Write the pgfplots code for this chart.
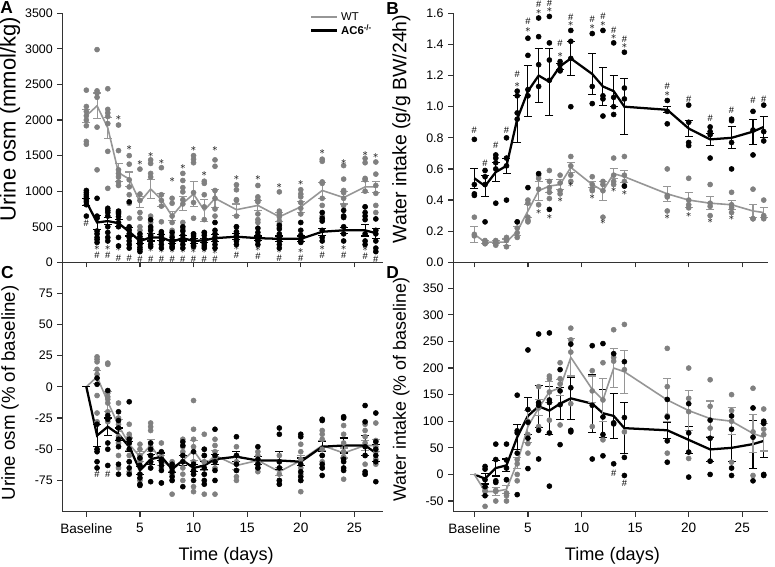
\documentclass[border=0pt]{standalone}
\usepackage{pgfplots}
\usepackage{pgfplotstable}
\pgfplotsset{compat=1.18}
\usepackage{fontspec}
\setmainfont{Liberation Sans}
\definecolor{wtg}{RGB}{150,150,150}
\definecolor{wtd}{RGB}{128,128,128}

% ---------------- Panel A : urine osmolality (mmol/kg) ----------------
\pgfplotstableread{
d wt wte ko koe
0 2060 90 850 50
1 2200 180 560 100
2 1890 150 580 50
3 1260 130 550 50
4 1170 100 430 60
5 850 80 300 40
6 1030 130 350 50
7 880 90 350 40
8 650 60 290 30
9 830 100 340 40
10 960 170 300 40
11 730 150 310 30
12 900 130 340 50
14 740 80 360 40
16 800 70 340 30
18 640 60 330 40
20 780 80 330 40
22 1010 110 430 50
24 910 90 450 40
26 1060 80 450 80
27 1060 80 410 70
}\Amean
\pgfplotstableread{
d v1 v2 v3 v4 v5 v6 v7 v8
0 2420 2190 2120 2060 2000 1920 1700 1660
1 2990 2410 2380 2320 1900 1300 nan nan
2 2440 2150 2100 2050 1950 1560 1040 nan
3 1930 1570 1300 1250 1200 1130 1080 nan
4 1500 1380 1160 1060 950 830 620 nan
5 1310 960 870 700 620 500 450 300
6 1440 1390 1250 1200 650 560 480 400
7 1330 950 870 790 570 410 nan nan
8 900 830 650 560 450 380 nan nan
9 1250 1150 1050 990 880 820 560 470
10 1500 1450 1400 980 840 620 400 nan
11 1140 1110 950 780 600 420 330 nan
12 1440 1350 1010 900 750 650 nan nan
14 1090 1020 880 870 650 500 nan nan
16 1080 920 880 850 680 600 560 nan
18 990 720 680 640 580 540 490 nan
20 1020 960 920 840 760 680 nan nan
22 1450 1420 1130 1110 900 800 650 600
24 1360 1170 1010 980 900 800 650 nan
26 1460 1400 1180 1160 1000 780 nan nan
27 1410 1240 1080 970 800 700 nan nan
}\Awt
\pgfplotstableread{
d v1 v2 v3 v4 v5 v6 v7 v8
0 1010 980 950 920 880 850 810 650
1 900 650 620 440 400 350 320 280
2 760 730 700 650 500 420 350 300
3 720 700 680 640 560 500 350 230
4 850 500 450 400 350 300 250 200
5 400 360 310 280 250 210 180 150
6 600 500 450 380 350 300 250 220
7 430 400 370 340 300 250 200 nan
8 420 350 300 270 250 220 200 nan
9 500 440 380 330 300 250 200 nan
10 400 370 330 300 270 240 220 nan
11 420 380 330 300 260 230 200 nan
12 560 450 400 350 300 250 200 nan
14 500 430 380 350 300 250 nan nan
16 480 420 380 330 300 250 nan nan
18 520 470 400 350 300 250 200 nan
20 560 450 380 330 300 280 nan nan
22 700 620 580 450 350 300 nan nan
24 730 650 630 500 400 300 nan nan
26 780 700 650 600 400 300 250 nan
27 610 450 400 300 200 150 nan nan
}\Ako

% ---------------- Panel B : water intake (g/g BW/24h) ----------------
\pgfplotstableread{
d wt wte ko koe
0 0.18 0.05 0.54 0.065
1 0.13 0.01 0.49 0.07
2 0.13 0.01 0.58 0.06
3 0.13 0.02 0.62 0.05
4 0.20 0.03 0.92 0.15
5 0.33 0.04 1.10 0.165
6 0.46 0.06 1.20 0.175
7 0.49 0.04 1.16 0.215
8 0.50 0.03 1.26 0.02
9 0.61 0.03 1.31 0.11
11 0.50 0.02 1.21 0.13
12 0.46 0.06 1.13 0.12
13 0.57 0.03 1.10 0.10
14 0.55 0.04 1.00 0.18
18 0.44 0.05 0.98 0.02
20 0.40 0.05 0.86 0.05
22 0.38 0.04 0.79 0.04
24 0.37 0.03 0.80 0.07
26 0.33 0.04 0.84 0.08
27 0.32 0.03 0.87 0.07
}\Bmean
\pgfplotstableread{
d v1 v2 v3 v4 v5
0 0.29 0.18 0.17 nan nan
1 0.14 0.13 0.12 0.12 nan
2 0.14 0.13 0.12 0.11 nan
3 0.16 0.15 0.14 0.10 nan
4 0.26 0.22 0.19 0.16 nan
5 0.40 0.38 0.29 0.27 0.26
6 0.56 0.54 0.47 0.37 nan
7 0.59 0.52 0.48 0.45 0.41
8 0.56 0.51 0.46 0.44 nan
9 0.68 0.62 0.56 0.52 nan
11 0.55 0.50 0.47 0.46 nan
12 0.52 0.50 0.46 0.29 nan
13 0.67 0.56 0.52 0.50 nan
14 0.68 0.56 0.52 0.49 nan
18 0.60 0.43 0.42 0.33 nan
20 0.54 0.40 0.37 0.35 nan
22 0.50 0.38 0.36 0.30 nan
24 0.45 0.37 0.35 0.32 nan
26 0.47 0.28 0.28 nan nan
27 0.40 0.30 0.29 0.28 nan
}\Bwt
\pgfplotstableread{
d v1 v2 v3 v4 v5
0 0.79 0.50 0.44 0.43 nan
1 0.59 0.55 0.50 0.26 nan
2 0.69 0.67 0.64 0.60 0.38
3 0.80 0.67 0.62 0.40 nan
4 1.10 1.07 0.96 0.92 0.26
5 1.44 1.33 1.11 1.07 0.48
6 1.57 1.45 1.27 1.13 0.57
7 1.58 1.41 1.30 1.17 0.34
8 1.29 1.27 1.24 1.23 nan
9 1.49 1.42 1.31 1.00 nan
11 1.47 1.13 1.02 nan nan
12 1.49 1.07 1.05 0.94 nan
13 1.41 1.06 1.00 0.95 nan
14 1.35 1.12 1.05 0.49 nan
18 1.04 0.97 0.89 nan nan
20 1.01 0.90 0.77 0.75 nan
22 0.87 0.84 0.82 0.67 nan
24 0.92 0.91 0.77 0.60 nan
26 0.97 0.85 0.69 nan nan
27 1.01 0.84 0.78 nan nan
}\Bko

% ---------------- Panel C : urine osm (% of baseline) ----------------
\pgfplotstableread{
d wt wte ko koe
0 0 0 0 0
1 8 5 -39 9
2 -12 8 -32 7
3 -31 5 -38 5
4 -46 5 -48 4
5 -56 4 -67 3
6 -47 5 -58 4
7 -59 4 -56 3
8 -65 3 -66 3
9 -59 4 -59 4
10 -51 8 -65 3
11 -63 4 -63 3
12 -55 4 -58 4
14 -63 3 -56 4
16 -59 3 -59 3
18 -68 3 -59 7
20 -59 4 -60 3
22 -47 4 -48 4
24 -53 4 -47 6
26 -47 4 -47 8
27 -47 5 -53 7
}\Cmean
\pgfplotstableread{
d v1 v2 v3 v4 v5 v6 v7 v8
1 24 22 20 14 10 -7 -21 -28
2 19 18 -5 -8 -10 -13 -20 -28
3 -13 -25 -30 -40 -45 -55 -65 nan
4 -30 -38 -40 -45 -55 -60 -68 nan
5 -46 -50 -55 -58 -60 -70 -75 nan
6 -29 -32 -35 -45 -48 -55 -60 -65
7 -45 -55 -60 -65 -77 nan nan nan
8 -60 -62 -67 -70 -75 -86 nan nan
9 -42 -48 -52 -55 -60 -65 -70 -75
10 -11 -34 -42 -48 -60 -70 -80 -84
11 -38 -50 -55 -60 -70 -86 nan nan
12 -42 -47 -52 -57 -60 -65 -86 nan
14 -48 -55 -60 -67 -72 -75 nan nan
16 -52 -55 -60 -62 -65 -68 nan nan
18 -55 -60 -65 -70 -75 -78 nan nan
20 -46 -52 -58 -65 -70 -75 -84 nan
22 -35 -38 -42 -50 -55 -60 -65 nan
24 -31 -38 -45 -52 -56 -74 nan nan
26 -30 -35 -40 -45 -55 -62 -70 nan
27 -29 -43 -48 -52 -58 -62 nan nan
}\Cwt
\pgfplotstableread{
d v1 v2 v3 v4 v5 v6 v7 v8
1 7 2 -30 -50 -52 -60 -65 nan
2 -3 -23 -26 -45 -50 -63 nan nan
3 -20 -27 -33 -42 -48 -62 -70 nan
4 -12 -42 -45 -50 -60 -65 -70 nan
5 -57 -63 -70 -73 -78 -79 nan nan
6 -45 -50 -55 -60 -65 -76 nan nan
7 -52 -58 -60 -63 -67 -77 nan nan
8 -62 -65 -68 -72 -75 nan nan nan
9 -44 -47 -55 -60 -80 nan nan nan
10 -52 -62 -67 -70 -75 nan nan nan
11 -50 -55 -65 -70 -75 -78 nan nan
12 -34 -55 -60 -67 -75 nan nan nan
14 -40 -55 -62 -67 nan nan nan nan
16 -48 -58 -62 -65 nan nan nan nan
18 -33 -38 -60 -65 -75 -78 nan nan
20 -38 -40 -62 -68 -72 -75 nan nan
22 -26 -27 -55 -62 -65 -71 nan nan
24 -24 -25 -58 -60 -65 -67 nan nan
26 -15 -28 -48 -55 -68 -70 nan nan
27 -21 -44 -50 -55 -60 -76 nan nan
}\Cko

% ---------------- Panel D : water intake (% of baseline) ----------------
\pgfplotstableread{
d wt wte ko koe
0 0 0 0 0
1 -32 7 -8 10
2 -32 7 12 15
3 -28 8 17 12
4 22 10 70 23
5 90 30 110 35
6 125 15 128 40
7 155 20 120 45
8 163 15 133 30
9 220 35 143 40
11 160 25 133 55
12 140 40 115 45
13 200 37 110 43
14 193 40 87 48
18 140 40 83 15
20 120 37 65 25
22 105 33 47 22
24 100 25 50 25
26 77 35 57 45
27 70 26 63 32
}\Dmean
\pgfplotstableread{
d v1 v2 v3 v4 v5
1 -60 -32 -30 -25 nan
2 -50 -32 -30 nan nan
3 -50 -40 -35 -10 nan
4 28 20 0 -12 nan
5 100 75 58 40 nan
6 165 135 125 90 nan
7 185 180 155 102 nan
8 210 180 170 93 nan
9 275 253 230 133 nan
11 195 157 90 nan nan
12 210 140 65 nan nan
13 272 220 213 nan nan
14 282 197 80 nan nan
18 237 165 110 40 nan
20 200 143 118 30 nan
22 178 128 87 25 nan
24 150 120 100 23 nan
26 162 80 -2 nan nan
27 123 97 85 75 nan
}\Dwt
\pgfplotstableread{
d v1 v2 v3 v4 v5
1 15 10 -10 -23 -40
2 57 28 -12 -15 nan
3 57 27 12 -10 nan
4 149 82 78 40 -38
5 234 122 98 68 11
6 264 135 130 83 29
7 266 140 135 78 -22
8 197 157 131 56 nan
9 245 163 83 80 nan
11 242 130 29 nan nan
12 246 108 75 35 nan
13 227 97 95 20 nan
14 212 107 32 -2 nan
18 141 108 63 23 nan
20 133 78 42 -5 nan
22 102 68 25 0 nan
24 110 85 12 -2 nan
26 125 70 -12 nan nan
27 100 96 0 -2 nan
}\Dko

\pgfplotsset{
  panel/.style={
    scale only axis,
    axis x line*=bottom, axis y line*=left,
    x axis line style={-, line width=0.9pt, black!80},
    y axis line style={-, line width=0.9pt, black!80},
    tick style={line width=0.9pt, black!80},
    tick align=outside,
    major tick length=3.8pt,
    xtick={0,5,10,15,20,25},
    tick label style={font=\fontsize{9.3}{10}\selectfont},
    xticklabel style={font=\fontsize{10.2}{11}\selectfont, yshift=-1.5pt},
    /pgf/number format/assume math mode=true,
    /pgf/number format/1000 sep={},
    clip=false,
    ylabel style={anchor=center},
    xlabel style={font=\fontsize{13.6}{14}\selectfont, anchor=center},
  },
  wtdots/.style={only marks, mark=*, mark size=1.9pt, draw=wtd, fill=wtd, forget plot},
  kodots/.style={only marks, mark=*, mark size=1.9pt, draw=black, fill=black, forget plot},
  wtmean/.style={wtg, line width=1.2pt, mark=none, forget plot,
    error bars/y dir=both, error bars/y explicit,
    error bars/error bar style={wtg, line width=0.8pt},
    error bars/error mark options={rotate=90, wtg, mark size=3pt, line width=0.8pt}},
  komean/.style={black, line width=1.7pt, mark=none, forget plot,
    error bars/y dir=both, error bars/y explicit,
    error bars/error bar style={black, line width=0.8pt},
    error bars/error mark options={rotate=90, black, mark size=3pt, line width=0.8pt}},
  star/.style={only marks, mark=text, text mark={\fontsize{8.5}{8}\selectfont$\ast$}, black, forget plot},
  hash/.style={only marks, mark=text, text mark={\fontsize{7}{7}\selectfont\#}, black, forget plot},
}

\begin{document}
\begin{tikzpicture}
\path[use as bounding box] (0,0) rectangle (581.25pt,425.25pt);

% ===== A =====
\begin{axis}[panel, at={(46.9pt,228.5pt)}, anchor=south west,
  width=240.6pt, height=186.75pt,
  xmin=-2.22, xmax=27.7, ymin=0, ymax=3500,
  ytick={0,500,...,3500}, xticklabels={},
  ylabel={Urine osm (mmol/kg)},
  ylabel style={font=\fontsize{16.5}{17}\selectfont, at={(axis description cs:-0.164,0.575)}},
  legend style={draw=none, fill=none, at={(axis description cs:0.77,1.015)}, anchor=north west,
    font=\fontsize{8.5}{9}\selectfont, row sep=-2pt, inner sep=0pt},
  legend cell align=left,
  legend image code/.code={\draw[#1] (0pt,0pt) -- (19.5pt,0pt);},
]
\addlegendimage{wtg, line width=1.5pt}
\addlegendentry{WT}
\addlegendimage{black, line width=2pt}
\addlegendentry{\textbf{AC6\textsuperscript{-/-}}}
\pgfplotsinvokeforeach{1,...,8}{\addplot[wtdots] table[x=d,y=v#1]{\Awt};}
\pgfplotsinvokeforeach{1,...,8}{\addplot[kodots] table[x=d,y=v#1]{\Ako};}
\addplot[komean] table[x=d,y=ko,y error=koe]{\Amean};
\addplot[wtmean] table[x=d,y=wt,y error=wte]{\Amean};
\addplot[star] coordinates {(3,2024) (4,1600) (5,1400) (6,1510) (7,1405) (8,1157) (9,1345) (10,1588) (11,1237) (12,1588) (14,1181) (16,1181) (18,1073) (20,1110) (22,1546) (24,1415) (26,1523) (27,1499)};
\addplot[star] coordinates {(1,200) (2,195) (3,185) (4,190) (5,165) (6,170) (7,165) (8,160) (9,160) (10,165) (11,160) (12,150) (14,195) (16,185) (18,165) (20,165) (22,195) (24,195) (26,190) (27,140)};
\addplot[hash] coordinates {(0,550) (1,100) (2,100) (3,60) (4,60) (5,40) (6,45) (7,45) (8,40) (9,40) (10,45) (11,40) (12,40) (14,100) (16,90) (18,55) (20,55) (22,100) (24,100) (26,90) (27,40)};
\end{axis}

% ===== B =====
\begin{axis}[panel, at={(340pt,228.5pt)}, anchor=south west,
  width=236.25pt, height=186.75pt,
  xmin=-1.96, xmax=27.43, ymin=0, ymax=1.6,
  ytick={0,0.2,...,1.6},
  yticklabel style={/pgf/number format/fixed, /pgf/number format/fixed zerofill, /pgf/number format/precision=1},
  xticklabels={},
  ylabel={Water intake (g/g BW/24h)},
  ylabel style={font=\fontsize{14.6}{15}\selectfont, at={(axis description cs:-0.165,0.535)}},
]
\pgfplotsinvokeforeach{1,...,5}{\addplot[wtdots] table[x=d,y=v#1]{\Bwt};}
\pgfplotsinvokeforeach{1,...,5}{\addplot[kodots] table[x=d,y=v#1]{\Bko};}
\addplot[komean] table[x=d,y=ko,y error=koe]{\Bmean};
\addplot[wtmean] table[x=d,y=wt,y error=wte]{\Bmean};
\addplot[star] coordinates {(6,0.326) (7,0.293) (8,0.40) (9,0.497) (11,0.422) (12,0.261) (13,0.465) (14,0.443) (18,0.293) (20,0.304) (22,0.268) (24,0.283)};
\addplot[star] coordinates {(4,1.14) (5,1.49) (6,1.61) (7,1.62) (8,1.33) (9,1.53) (11,1.51) (12,1.53) (13,1.45) (14,1.39) (18,1.08)};
\addplot[hash] coordinates {(0,0.85) (1,0.636) (2,0.754) (3,0.85) (4,1.21) (5,1.547) (6,1.66) (7,1.664) (8,1.41) (9,1.574) (11,1.564) (12,1.58) (13,1.49) (14,1.43) (18,1.13) (20,1.05) (22,0.925) (24,0.975) (26,1.04) (27,1.05)};
\end{axis}

% ===== C =====
\begin{axis}[panel, at={(46.9pt,41.5pt)}, anchor=south west,
  width=240.6pt, height=187.3pt,
  xmin=-2.22, xmax=27.7, ymin=-100, ymax=100,
  ytick={-75,-50,...,75},
  xticklabels={Baseline,5,10,15,20,25},
  ylabel={Urine osm (\% of baseline)},
  ylabel style={font=\fontsize{14}{15}\selectfont, at={(axis description cs:-0.164,0.475)}},
  xlabel={Time (days)},
  xlabel style={at={(axis description cs:0.51,-0.175)}},
]
\pgfplotsinvokeforeach{1,...,8}{\addplot[wtdots] table[x=d,y=v#1]{\Cwt};}
\pgfplotsinvokeforeach{1,...,8}{\addplot[kodots] table[x=d,y=v#1]{\Cko};}
\addplot[wtmean] table[x=d,y=wt,y error=wte]{\Cmean};
\addplot[komean] table[x=d,y=ko,y error=koe]{\Cmean};
\addplot[hash] coordinates {(1,-70) (2,-70)};
\end{axis}

% ===== D =====
\begin{axis}[panel, at={(340pt,41.5pt)}, anchor=south west,
  width=236.25pt, height=187.5pt,
  xmin=-1.96, xmax=27.43, ymin=-70, ymax=400,
  ytick={-50,0,...,350},
  xticklabels={Baseline,5,10,15,20,25},
  ylabel={Water intake (\% of baseline)},
  ylabel style={font=\fontsize{13.4}{14}\selectfont, at={(axis description cs:-0.165,0.488)}},
  xlabel={Time (days)},
  xlabel style={at={(axis description cs:0.505,-0.175)}},
]
\pgfplotsinvokeforeach{1,...,5}{\addplot[wtdots] table[x=d,y=v#1]{\Dwt};}
\pgfplotsinvokeforeach{1,...,5}{\addplot[kodots] table[x=d,y=v#1]{\Dko};}
\addplot[komean] table[x=d,y=ko,y error=koe]{\Dmean};
\addplot[wtmean] table[x=d,y=wt,y error=wte]{\Dmean};
\addplot[hash] coordinates {(13,3) (14,-16)};
\end{axis}

\node[font=\bfseries\fontsize{13}{13}\selectfont] at (4.9pt,419.3pt) {A};
\node[font=\bfseries\fontsize{13}{13}\selectfont] at (294.4pt,418.9pt) {B};
\node[font=\bfseries\fontsize{13}{13}\selectfont] at (5.6pt,220.5pt) {C};
\node[font=\bfseries\fontsize{13}{13}\selectfont] at (294.4pt,220.9pt) {D};
\end{tikzpicture}
\end{document}
